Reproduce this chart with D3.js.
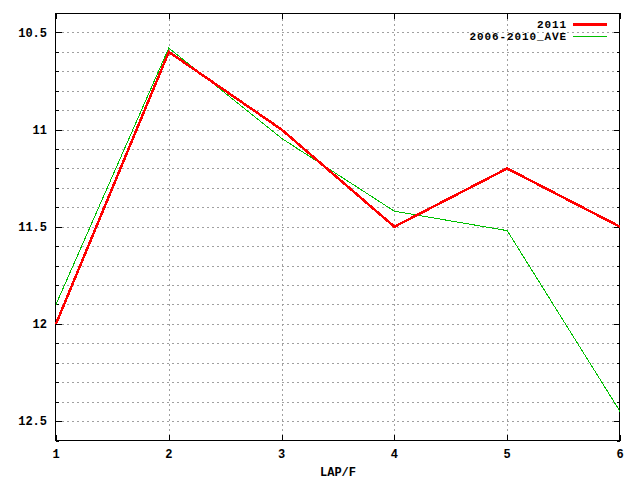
<!DOCTYPE html>
<html><head><meta charset="utf-8">
<script src="https://cdn.jsdelivr.net/npm/d3@7"></script>
<style>body{margin:0;background:#fff;} text{font-family:"Liberation Mono","DejaVu Sans Mono",monospace;font-weight:bold;font-size:12px;fill:#000;}</style>
</head><body>
<svg id="c" width="640" height="480"></svg>
<script>
const laps = [1, 2, 3, 4, 5, 6];
const series2011 = [12.0, 10.6, 11.0, 11.5, 11.2, 11.5];
const seriesAve = [11.9, 10.58, 11.045, 11.42, 11.52, 12.45];
const seriesNames = ["2011", "2006-2010_AVE"];
const seriesColors = ["#ff0000", "#00c000"];
const yMajorTicks = [10.5, 11, 11.5, 12, 12.5];
const yMinorTicks = [10.4,10.5,10.6,10.7,10.8,10.9,11,11.1,11.2,11.3,11.4,11.5,11.6,11.7,11.8,11.9,12,12.1,12.2,12.3,12.4,12.5,12.6];
const xLabel = "LAP/F";

const L = 56, R = 620, T = 13, B = 440.5;
const svg = d3.select("#c");
const x = d3.scaleLinear().domain([1, 6]).range([L, R]);
const y = d3.scaleLinear().domain([10.4, 12.6]).range([T, B]);
const px = v => Math.round(v) + 0.5;

const g = svg.append("g").attr("shape-rendering", "crispEdges");
g.selectAll(".hg").data(yMinorTicks.filter(v => v > 10.45 && v < 12.55)).enter().append("line")
  .attr("x1", L + 1).attr("x2", R - 1)
  .attr("y1", d => px(y(d))).attr("y2", d => px(y(d)))
  .attr("stroke", "#a0a0a0").attr("stroke-dasharray", "2,3");
g.selectAll(".vg").data(laps.slice(1, -1)).enter().append("line")
  .attr("x1", d => px(x(d))).attr("x2", d => px(x(d)))
  .attr("y1", T + 1).attr("y2", B - 1)
  .attr("stroke", "#a0a0a0").attr("stroke-dasharray", "2,3");

const tk = svg.append("g").attr("shape-rendering", "crispEdges").attr("stroke", "#000");
yMinorTicks.forEach(v => {
  const major = yMajorTicks.some(m => Math.abs(m - v) < 1e-6);
  const len = major ? 6 : 3;
  const yy = px(y(v));
  tk.append("line").attr("x1", L).attr("x2", L + len).attr("y1", yy).attr("y2", yy);
  tk.append("line").attr("x1", R).attr("x2", R - len).attr("y1", yy).attr("y2", yy);
});
laps.forEach(v => {
  const xx = px(x(v));
  tk.append("line").attr("x1", xx).attr("x2", xx).attr("y1", T).attr("y2", T + 6);
  tk.append("line").attr("x1", xx).attr("x2", xx).attr("y1", B).attr("y2", B - 6);
});

svg.append("rect").attr("x", L - 0.5).attr("y", T + 0.5).attr("width", R - L).attr("height", Math.round(B) - T - 1)
  .attr("fill", "none").attr("stroke", "#000").attr("stroke-width", 1.5).attr("shape-rendering", "crispEdges");

svg.selectAll(".yl").data(yMajorTicks).enter().append("text")
  .attr("x", 47).attr("y", d => y(d)).attr("dy", "0.35em").attr("text-anchor", "end").text(d => String(d));
svg.selectAll(".xl").data(laps).enter().append("text")
  .attr("x", d => x(d)).attr("y", 454).attr("dy", "0.35em").attr("text-anchor", "middle").text(d => d);
svg.append("text").attr("x", (L + R) / 2).attr("y", 472).attr("dy", "0.35em").attr("text-anchor", "middle").text(xLabel);

const line = d3.line().x((d, i) => x(laps[i])).y(d => y(d));
svg.append("path").datum(seriesAve).attr("d", line).attr("fill", "none")
  .attr("stroke", seriesColors[1]).attr("stroke-width", 1).attr("shape-rendering", "crispEdges");
svg.append("path").datum(series2011).attr("d", line).attr("fill", "none")
  .attr("stroke", seriesColors[0]).attr("stroke-width", 2.5).attr("stroke-linejoin", "miter").attr("shape-rendering", "crispEdges");

const leg = [{n: seriesNames[0], c: seriesColors[0], w: 2.5, y: 24}, {n: seriesNames[1], c: seriesColors[1], w: 1, y: 36}];
leg.forEach(d => {
  svg.append("text").attr("x", 567).attr("y", d.y).attr("dy", "0.35em").attr("text-anchor", "end")
    .style("font-size", "11px").style("letter-spacing", "0.9px").text(d.n);
  svg.append("line").attr("x1", 573).attr("x2", 607).attr("y1", d.y + 0.5).attr("y2", d.y + 0.5)
    .attr("stroke", d.c).attr("stroke-width", d.w).attr("shape-rendering", "crispEdges");
});
</script>
</body></html>
